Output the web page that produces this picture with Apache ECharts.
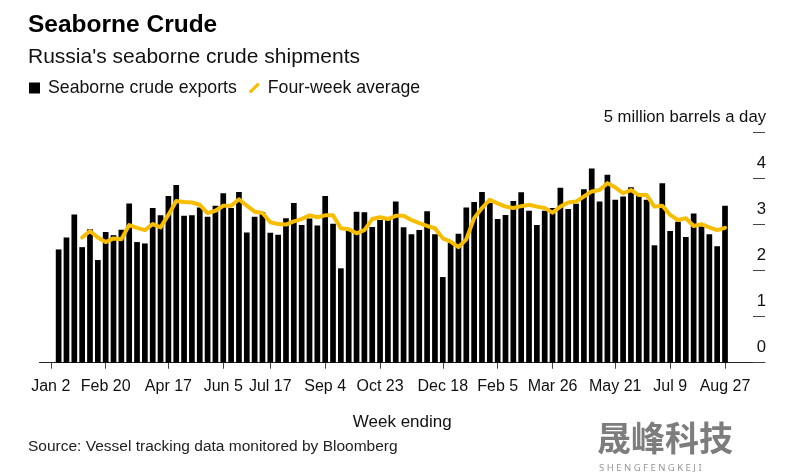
<!DOCTYPE html>
<html>
<head>
<meta charset="utf-8">
<script src="https://cdn.jsdelivr.net/npm/echarts@6.0.0/dist/echarts.min.js"></script>
<style>
html,body{margin:0;padding:0;background:#fff;}
#chart{width:789px;height:476px;}
</style>
</head>
<body>
<div id="chart"></div>
<script>
// Week index 0 = week ending Jan 2, 2022; index 86 = week ending Aug 27, 2023
const tickLabels = ['Jan 2','Feb 20','Apr 17','Jun 5','Jul 17','Sep 4','Oct 23','Dec 18','Feb 5','Mar 26','May 21','Jul 9','Aug 27'];
const tickWeeks  = [0, 7, 15, 22, 28, 35, 42, 50, 57, 64, 72, 79, 86];
const yTickLabels = ['0','1','2','3','4','5 million barrels a day'];

// Seaborne crude exports (million barrels a day), weeks 1..86
const exportsStart = 1;
const exportsValues = [
  2.46,2.72,3.22,2.51,2.90,2.23,2.84,2.77,2.89,3.46,
  2.62,2.59,3.36,3.20,3.62,3.86,3.19,3.20,3.37,3.17,
  3.41,3.68,3.36,3.71,2.83,3.17,3.27,2.82,2.78,3.14,
  3.47,2.99,3.13,2.98,3.62,3.02,2.05,2.86,3.28,3.27,
  2.95,3.10,3.10,3.50,2.94,2.79,2.88,3.29,2.79,1.86,
  2.61,2.80,3.37,3.49,3.71,3.47,3.12,3.21,3.51,3.70,
  3.30,2.99,3.30,3.36,3.80,3.34,3.45,3.77,4.22,3.50,
  4.08,3.54,3.61,3.81,3.63,3.54,2.55,3.90,2.86,3.06,
  2.73,3.24,2.96,2.79,2.53,3.41
];

// Four-week average, weeks 4..86
const avgStart = 4;
const avgValues = [
  2.72,2.86,2.72,2.62,2.70,2.68,2.99,2.93,2.88,3.01,
  2.94,3.21,3.51,3.49,3.48,3.43,3.25,3.30,3.41,3.41,
  3.55,3.41,3.28,3.25,3.05,3.01,3.00,3.07,3.12,3.20,
  3.16,3.20,3.20,2.92,2.90,2.81,2.88,3.12,3.16,3.12,
  3.19,3.19,3.10,3.03,2.97,2.92,2.70,2.63,2.51,2.68,
  3.14,3.36,3.54,3.46,3.39,3.36,3.40,3.43,3.39,3.36,
  3.26,3.39,3.48,3.50,3.61,3.72,3.75,3.90,3.81,3.68,
  3.75,3.64,3.64,3.39,3.41,3.21,3.10,3.14,2.97,3.01,
  2.94,2.88,2.93
];

const barData = exportsValues.map((v, i) => [exportsStart + i, v]);
const lineData = avgValues.map((v, i) => [avgStart + i, v]);

const YELLOW = '#F7BD00';
const FONT = 'Liberation Sans, Arial, sans-serif';
const chart = echarts.init(document.getElementById('chart'), null, {renderer: 'canvas'});
chart.setOption({
  animation: false,
  backgroundColor: '#fff',
  textStyle: {fontFamily: FONT},
  title: {
    text: 'Seaborne Crude',
    subtext: "Russia's seaborne crude shipments",
    left: 23, top: 8, itemGap: 9,
    textStyle: {fontSize: 24.5, fontWeight: 'bold', color: '#000', fontFamily: FONT},
    subtextStyle: {fontSize: 21, color: '#111', fontFamily: FONT}
  },
  legend: {
    left: 24, top: 74,
    itemWidth: 11, itemHeight: 14, itemGap: 12,
    symbolKeepAspect: true,
    textStyle: {fontSize: 17.7, color: '#111', padding: [0,0,0,3]},
    selectedMode: false,
    data: [
      {name: 'Seaborne crude exports', icon: 'path://M0,0 L10,0 L10,10 L0,10 Z', itemStyle: {color: '#000'}},
      {name: 'Four-week average', icon: 'path://M0,8 L8,0 L10,2 L2,10 Z', itemStyle: {color: YELLOW}, lineStyle: {width: 0, opacity: 0}}
    ]
  },
  grid: {left: 39.5, right: 24, top: 132.5, bottom: 113.3},
  xAxis: {
    type: 'value',
    min: -1.44, max: 91.1,
    splitLine: {show: false},
    axisLine: {show: true, onZero: false, lineStyle: {color: '#222', width: 1}},
    axisTick: {show: true, customValues: tickWeeks, length: 6, lineStyle: {color: '#444'}},
    axisLabel: {
      customValues: tickWeeks, margin: 16, fontSize: 16, color: '#111',
      formatter: v => { const k = tickWeeks.indexOf(Math.round(v)); return k >= 0 ? tickLabels[k] : ''; }
    },
    name: 'Week ending', nameLocation: 'middle', nameGap: 51,
    nameTextStyle: {fontSize: 17, color: '#111'}
  },
  yAxis: {
    type: 'value', position: 'right',
    min: 0, max: 5, interval: 1,
    splitLine: {show: false},
    axisLine: {show: false, onZero: false},
    axisTick: {show: true, inside: true, length: 12, lineStyle: {color: '#444'}},
    axisLabel: {
      inside: true, margin: -1, fontSize: 16.7, color: '#111',
      verticalAlign: 'bottom', lineHeight: 16, padding: [0,0,7,0],
      formatter: v => yTickLabels[Math.round(v)]
    }
  },
  series: [
    {
      name: 'Seaborne crude exports', type: 'bar',
      data: barData, barWidth: 5.7,
      itemStyle: {color: '#000'}
    },
    {
      name: 'Four-week average', type: 'line',
      data: lineData, showSymbol: false, symbol: 'none',
      lineStyle: {color: YELLOW, width: 4, cap: 'round', join: 'round'},
      itemStyle: {color: YELLOW}
    }
  ],
  graphic: [
    {type: 'text', left: 28, top: 439, style: {text: 'Source: Vessel tracking data monitored by Bloomberg', fontSize: 15.5, fill: '#222', fontFamily: FONT}},
    {type: 'text', left: 597, top: 421, style: {text: '晟峰科技', fontSize: 34, fill: 'rgba(70,70,70,0.7)', fontFamily: 'Noto Sans CJK SC', fontWeight: 'bold'}},
    {type: 'text', left: 599, top: 463, style: {text: 'S H E N G F E N G K E J I', fontSize: 9.5, fill: 'rgba(90,90,90,0.65)', fontFamily: 'Noto Sans'}}
  ]
});
</script>
</body>
</html>
